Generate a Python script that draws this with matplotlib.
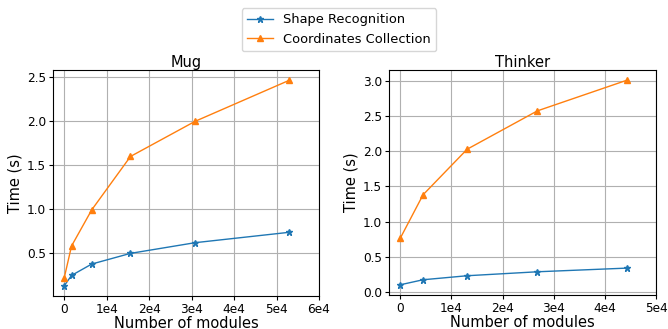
import matplotlib
matplotlib.use("Agg")
import matplotlib.pyplot as plt

mug_x = [0, 1720, 6480, 15600, 30800, 53000]
mug_shape = [0.129, 0.246, 0.375, 0.496, 0.617, 0.735]
mug_coord = [0.22, 0.58, 0.99, 1.595, 1.993, 2.459]

thinker_x = [0, 4440, 13070, 26800, 44300]
thinker_shape = [0.108, 0.179, 0.236, 0.292, 0.344]
thinker_coord = [0.769, 1.382, 2.028, 2.571, 3.005]

mug_xticks = [0, 10000, 20000, 30000, 40000, 50000, 60000]
mug_xticklabels = ["0", "1e4", "2e4", "3e4", "4e4", "5e4", "6e4"]
thinker_xticks = [0, 10000, 20000, 30000, 40000, 50000]
thinker_xticklabels = ["0", "1e4", "2e4", "3e4", "4e4", "5e4"]

fig = plt.figure(figsize=(6.68, 3.29), dpi=100)
ax1 = fig.add_axes([53/668, 1-296/329, 266/668, 226/329])
ax2 = fig.add_axes([389/668, 1-295/329, 267/668, 225/329])

for ax, x, s, c, title, ticks, labels in [
    (ax1, mug_x, mug_shape, mug_coord, "Mug", mug_xticks, mug_xticklabels),
    (ax2, thinker_x, thinker_shape, thinker_coord, "Thinker", thinker_xticks, thinker_xticklabels),
]:
    l1, = ax.plot(x, s, marker="*", markersize=4.5, linewidth=1, color="#1f77b4", label="Shape Recognition")
    l2, = ax.plot(x, c, marker="^", markersize=4.5, linewidth=1, color="#ff7f0e", label="Coordinates Collection")
    ax.set_xticks(ticks)
    ax.set_xticklabels(labels)
    ax.set_title(title, fontsize=10.5, pad=2)
    ax.set_xlabel("Number of modules", fontsize=10.5, labelpad=0)
    ax.set_ylabel("Time (s)", fontsize=10.5, labelpad=3)
    ax.tick_params(labelsize=8.7, length=3, pad=2)
    ax.grid(True)

fig.legend(handles=[l1, l2], loc="upper center", bbox_to_anchor=(0.5075, 0.995), fontsize=9.4)
fig.savefig("out.png", dpi=100)
